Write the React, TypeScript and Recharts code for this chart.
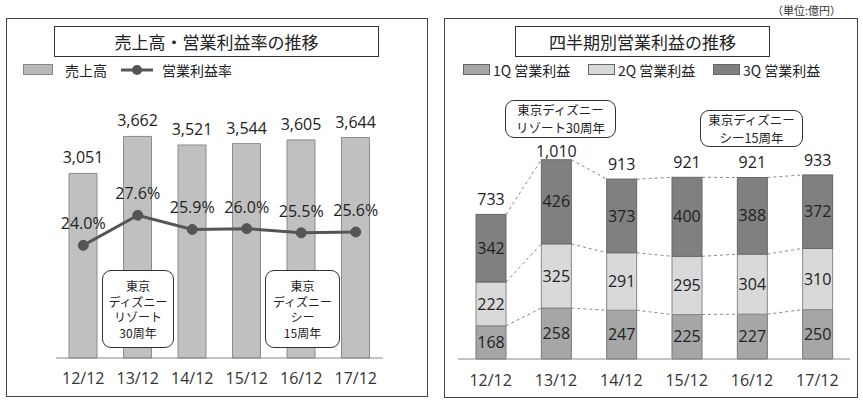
import React from 'react';
import { ComposedChart, BarChart, Bar, Line, XAxis, YAxis, LabelList } from 'recharts';

const years = ['12/12', '13/12', '14/12', '15/12', '16/12', '17/12'];
const sales = [3051, 3662, 3521, 3544, 3605, 3644];
const opMargin = [24.0, 27.6, 25.9, 26.0, 25.5, 25.6];
const q1 = [168, 258, 247, 225, 227, 250];
const q2 = [222, 325, 291, 295, 304, 310];
const q3 = [342, 426, 373, 400, 388, 372];
const totals = [733, 1010, 913, 921, 921, 933];

const salesData = years.map((year, i) => ({ year, sales: sales[i], margin: opMargin[i] }));
const quarterData = years.map((year, i) => ({ year, q1: q1[i], q2: q2[i], q3: q3[i], total: totals[i] }));

const NUM_FONT = "'Open Sans', 'Noto Sans CJK JP', sans-serif";
const JP_FONT = "'Noto Sans CJK JP', sans-serif";

const comma = (v: number) => String(v).replace(/\B(?=(\d{3})+(?!\d))/g, ',');

// right chart geometry
const R_W = 433;
const R_M = { top: 122, right: 13, bottom: 14, left: 28 };
const R_BAND = (R_W - R_M.left - R_M.right) / years.length;

// top segment + dashed connectors to the next stack
const Q3Shape = (props: any) => {
  const { x, y, width, height, index, fill, stroke } = props;
  const k = height / q3[index];
  const base = y + height + (q1[index] + q2[index]) * k;
  const lines: React.ReactNode[] = [];
  if (index < years.length - 1) {
    const j = index + 1;
    const cur = [q1[index], q1[index] + q2[index], q1[index] + q2[index] + q3[index]];
    const nxt = [q1[j], q1[j] + q2[j], q1[j] + q2[j] + q3[j]];
    const nx = x + R_BAND;
    cur.forEach((c, n) => {
      lines.push(
        <line
          key={n}
          x1={x + width}
          y1={base - c * k}
          x2={nx}
          y2={base - nxt[n] * k}
          stroke="#8a8a8a"
          strokeWidth={1}
          strokeDasharray="3 3"
        />
      );
    });
  }
  return (
    <g>
      {lines}
      <rect x={x} y={y} width={width} height={height} fill={fill} stroke={stroke} strokeWidth={1} />
    </g>
  );
};

const TotalLabel = (props: any) => {
  const vb = props.viewBox || props;
  const off = props.index === 1 ? 3 : 9;
  return (
    <text
      x={vb.x + vb.width / 2}
      y={vb.y - off}
      textAnchor="middle"
      fontSize={16}
      fontFamily={NUM_FONT}
      fill="#222"
    >
      {comma(props.value)}
    </text>
  );
};

const abs = (left: number, top: number, extra: React.CSSProperties = {}): React.CSSProperties => ({
  position: 'absolute',
  left,
  top,
  ...extra,
});

const NoteBox = ({ left, top, width, height, lines, fontSize, lineHeight, pad }: any) => (
  <div
    style={abs(left, top, {
      width,
      height,
      boxSizing: 'border-box',
      border: '1px solid #333',
      borderRadius: 9,
      background: '#fff',
      fontFamily: JP_FONT,
      fontSize,
      lineHeight: `${lineHeight}px`,
      color: '#222',
      textAlign: 'center',
      paddingTop: pad,
    })}
  >
    {lines.map((t: string) => (
      <div key={t}>{t}</div>
    ))}
  </div>
);

const numStyle = { fontSize: 16, fill: '#222', fontFamily: NUM_FONT };

export default function App() {
  return (
    <div
      style={{
        position: 'absolute',
        left: 0,
        top: 0,
        width: 863,
        height: 403,
        background: '#fff',
        overflow: 'hidden',
      }}
    >
      <div style={abs(772, 2, { fontFamily: JP_FONT, fontSize: 11, color: '#333' })}>（単位:億円）</div>

      {/* left panel */}
      <div style={abs(6, 18, { width: 422, height: 379, boxSizing: 'border-box', border: '1.5px solid #444' })} />
      <div style={abs(0, 0)}>
        <ComposedChart width={430} height={403} data={salesData} margin={{ top: 116, right: 47, bottom: 15, left: 56 }}>
          <XAxis
            dataKey="year"
            axisLine={{ stroke: '#888' }}
            tickLine={false}
            tickMargin={9}
            height={30}
            interval={0}
            tick={{ fontSize: 16, fill: '#333', fontFamily: NUM_FONT }}
          />
          <YAxis yAxisId="l" hide domain={[0, 4000]} />
          <YAxis yAxisId="r" hide domain={[10.5, 39.5]} />
          <Bar yAxisId="l" dataKey="sales" fill="#c0c0c0" stroke="#8c8c8c" barSize={28} isAnimationActive={false}>
            <LabelList dataKey="sales" position="top" offset={10} formatter={(v: any) => comma(v)} style={numStyle} />
          </Bar>
          <Line
            yAxisId="r"
            dataKey="margin"
            stroke="#555"
            strokeWidth={3}
            dot={{ r: 5, fill: '#555', stroke: '#555', strokeWidth: 1 }}
            isAnimationActive={false}
          >
            <LabelList
              dataKey="margin"
              position="top"
              offset={16}
              formatter={(v: any) => `${Number(v).toFixed(1)}%`}
              style={numStyle}
            />
          </Line>
        </ComposedChart>
      </div>
      <div
        style={abs(54, 26, {
          width: 325,
          height: 31,
          boxSizing: 'border-box',
          border: '1px solid #333',
          background: '#fff',
          fontFamily: JP_FONT,
          fontSize: 17,
          lineHeight: '29px',
          textAlign: 'center',
          color: '#222',
        })}
      >
        売上高・営業利益率の推移
      </div>
      <div style={abs(23, 64, { width: 30, height: 11, boxSizing: 'border-box', background: '#b8b8b8', border: '1px solid #888' })} />
      <div style={abs(65, 60, { fontFamily: JP_FONT, fontSize: 14, color: '#222' })}>売上高</div>
      <svg style={abs(121, 62)} width={32} height={16}>
        <line x1={0} y1={8} x2={32} y2={8} stroke="#555" strokeWidth={3} />
        <circle cx={16} cy={8} r={5} fill="#555" />
      </svg>
      <div style={abs(162, 60, { fontFamily: JP_FONT, fontSize: 14, color: '#222' })}>営業利益率</div>
      <NoteBox left={102} top={270} width={72} height={78} fontSize={12} lineHeight={15.5} pad={7} lines={['東京', 'ディズニー', 'リゾート', '30周年']} />
      <NoteBox left={265} top={270} width={75} height={78} fontSize={12} lineHeight={15.5} pad={7} lines={['東京', 'ディズニー', 'シー', '15周年']} />

      {/* right panel */}
      <div style={abs(444, 18, { width: 414, height: 380, boxSizing: 'border-box', border: '1.5px solid #444' })} />
      <div style={abs(430, 0)}>
        <BarChart width={R_W} height={403} data={quarterData} margin={R_M}>
          <XAxis
            dataKey="year"
            axisLine={{ stroke: '#888' }}
            tickLine={false}
            tickMargin={10}
            height={30}
            interval={0}
            tick={{ fontSize: 16, fill: '#333', fontFamily: NUM_FONT }}
          />
          <YAxis hide domain={[0, 1200]} />
          <Bar dataKey="q1" stackId="a" fill="#a6a6a6" stroke="#777" barSize={30} isAnimationActive={false}>
            <LabelList dataKey="q1" position="center" style={numStyle} />
          </Bar>
          <Bar dataKey="q2" stackId="a" fill="#d9d9d9" stroke="#888" barSize={30} isAnimationActive={false}>
            <LabelList dataKey="q2" position="center" style={numStyle} />
          </Bar>
          <Bar dataKey="q3" stackId="a" fill="#808080" stroke="#666" barSize={30} shape={Q3Shape} isAnimationActive={false}>
            <LabelList dataKey="q3" position="center" style={numStyle} />
            <LabelList dataKey="total" content={TotalLabel} />
          </Bar>
        </BarChart>
      </div>
      <div
        style={abs(515, 26, {
          width: 255,
          height: 31,
          boxSizing: 'border-box',
          border: '1px solid #333',
          background: '#fff',
          fontFamily: JP_FONT,
          fontSize: 17,
          lineHeight: '29px',
          textAlign: 'center',
          color: '#222',
        })}
      >
        四半期別営業利益の推移
      </div>
      {[
        { left: 463, fill: '#a6a6a6', label: '1Q 営業利益' },
        { left: 588, fill: '#d9d9d9', label: '2Q 営業利益' },
        { left: 713, fill: '#808080', label: '3Q 営業利益' },
      ].map((it) => (
        <React.Fragment key={it.label}>
          <div style={abs(it.left, 64, { width: 27, height: 11, boxSizing: 'border-box', background: it.fill, border: '1px solid #666' })} />
          <div style={abs(it.left + 30, 60, { fontFamily: JP_FONT, fontSize: 14, color: '#222', whiteSpace: 'nowrap' })}>{it.label}</div>
        </React.Fragment>
      ))}
      <NoteBox left={505} top={100} width={111} height={38} fontSize={12.5} lineHeight={17.5} pad={0} lines={['東京ディズニー', 'リゾート30周年']} />
      <NoteBox left={700} top={110} width={103} height={37} fontSize={12.5} lineHeight={17.5} pad={0} lines={['東京ディズニー', 'シー15周年']} />
    </div>
  );
}
